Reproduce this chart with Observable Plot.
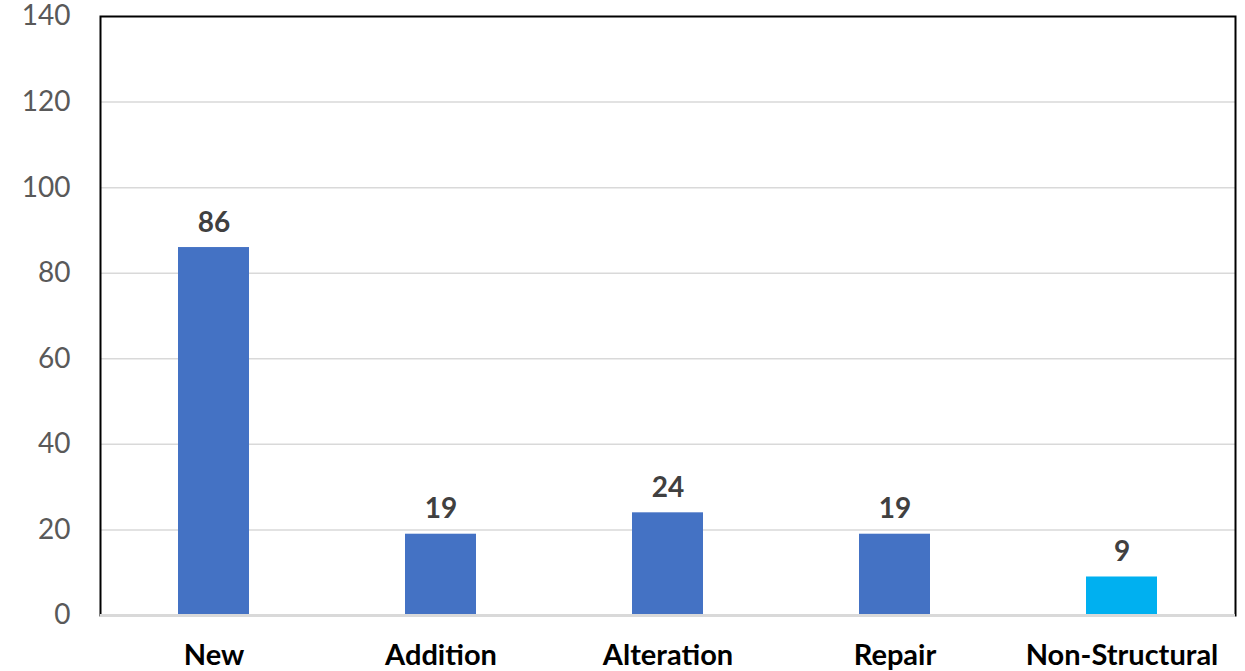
<!DOCTYPE html>
<html>
<head>
<meta charset="utf-8">
<script src="https://cdn.jsdelivr.net/npm/d3@7"></script>
<script src="https://cdn.jsdelivr.net/npm/@observablehq/plot@0.6"></script>
<style>
  html, body { margin: 0; padding: 0; background: #fff; }
  #chart svg { display: block; }
</style>
</head>
<body>
<div id="chart"></div>
<script>
const categories = ["New", "Addition", "Alteration", "Repair", "Non-Structural"];
const counts = [86, 19, 24, 19, 9];
const barColors = ["#4472C4", "#4472C4", "#4472C4", "#4472C4", "#00B0F0"];
const yTicks = [0, 20, 40, 60, 80, 100, 120, 140];

const data = categories.map((c, i) => ({category: c, count: counts[i], color: barColors[i]}));

const chart = Plot.plot({
  width: 1245,
  height: 671,
  marginLeft: 100,
  marginRight: 10,
  marginTop: 16,
  marginBottom: 56,
  style: {fontFamily: "Lato, 'Open Sans', sans-serif", background: "#fff"},
  x: {domain: categories, paddingInner: 0.687, paddingOuter: 0.3435, label: null},
  y: {domain: [0, 140], label: null},
  marks: [
    Plot.ruleY(yTicks.filter(d => d > 0 && d < 140), {stroke: "#d9d9d9", strokeWidth: 1.5}),
    Plot.axisY(yTicks, {tickSize: 0, tickPadding: 30, fontSize: 28, fill: "#595959", label: null}),
    Plot.axisX({tickSize: 0, tickPadding: 29, fontSize: 29, fontWeight: "bold", fill: "#000", label: null}),
    Plot.barY(data, {x: "category", y: "count", fill: "color"}),
    Plot.text(data, {x: "category", y: "count", text: d => String(d.count), dy: -25, fontSize: 28, fontWeight: "bold", fill: "#404040"}),
    Plot.frame({stroke: "#000", strokeWidth: 2}),
    Plot.ruleY([0], {stroke: "#d9d9d9", strokeWidth: 3})
  ]
});
document.getElementById("chart").appendChild(chart);
</script>
</body>
</html>
